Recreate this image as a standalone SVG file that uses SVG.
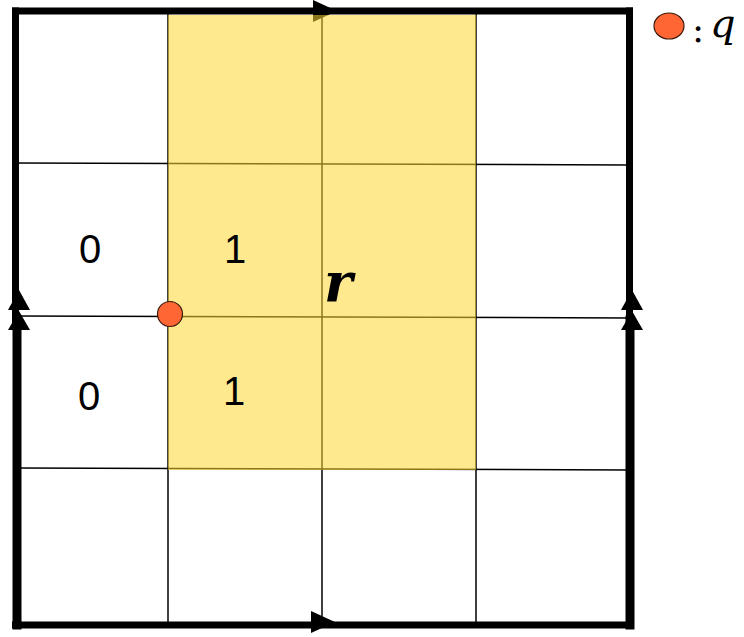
<svg xmlns="http://www.w3.org/2000/svg" width="744" height="637" viewBox="0 0 744 637">
<style>
.grid{stroke:#000;stroke-width:1.5;fill:none}
.border{stroke:#000;stroke-width:7;fill:none;stroke-linecap:square}
.head{fill:#000}
.num{font-family:"Liberation Sans",sans-serif;font-size:40px;fill:#000;text-anchor:middle}
.math{font-family:"DejaVu Serif",serif;font-style:italic;fill:#000}
.dot{fill:#FF6633;stroke:#3a1a0a;stroke-width:1.2}
</style>
<rect width="744" height="637" fill="#fff"/>
<g id="grid">
<line class="grid" x1="168" y1="11" x2="168" y2="625"/>
<line class="grid" x1="322" y1="11" x2="322" y2="625"/>
<line class="grid" x1="476" y1="11" x2="476" y2="625"/>
<line class="grid" x1="16" y1="163" x2="629" y2="165"/>
<line class="grid" x1="16" y1="316" x2="629" y2="318"/>
<line class="grid" x1="16" y1="468" x2="629" y2="470"/>
</g>
<g id="connectors">
<line class="border" x1="15.5" y1="11" x2="629.5" y2="11"/>
<line class="border" x1="15.5" y1="11" x2="15.5" y2="320"/>
<line class="border" x1="629.5" y1="11" x2="629.5" y2="320"/>
<line class="border" x1="15.5" y1="625" x2="629.5" y2="625"/>
<line class="border" style="stroke-width:9" x1="17" y1="320" x2="17" y2="625"/>
<line class="border" style="stroke-width:9" x1="630" y1="320" x2="630" y2="625"/>
<polygon class="head" points="313,0 337,11 313,22"/>
<polygon class="head" points="311,611 335,622 311,633"/>
<polygon class="head" points="19,290 30,310 8,310"/>
<polygon class="head" points="19,311 30,330 8,330"/>
<polygon class="head" points="632,290 643,310 621,310"/>
<polygon class="head" points="632,311 643,330 621,330"/>
</g>
<g id="region">
<rect x="168" y="15" width="308" height="455" fill="#FFD731" fill-opacity="0.55"/>
</g>
<g id="labels">
<text class="num" x="90" y="263">0</text>
<text class="num" x="89" y="410">0</text>
<text class="num" x="235" y="263">1</text>
<text class="num" x="234" y="405">1</text>
<text class="math" x="324" y="302" font-size="54" font-weight="bold">r</text>
</g>
<g id="point-q">
<circle class="dot" cx="170" cy="314" r="12.5"/>
</g>
<g id="legend">
<ellipse class="dot" cx="669" cy="26" rx="15" ry="13"/>
<text x="692" y="42" font-family="DejaVu Serif, serif" font-size="36" fill="#000">:</text>
<text class="math" x="710" y="37" font-size="40">q</text>
</g>
</svg>
